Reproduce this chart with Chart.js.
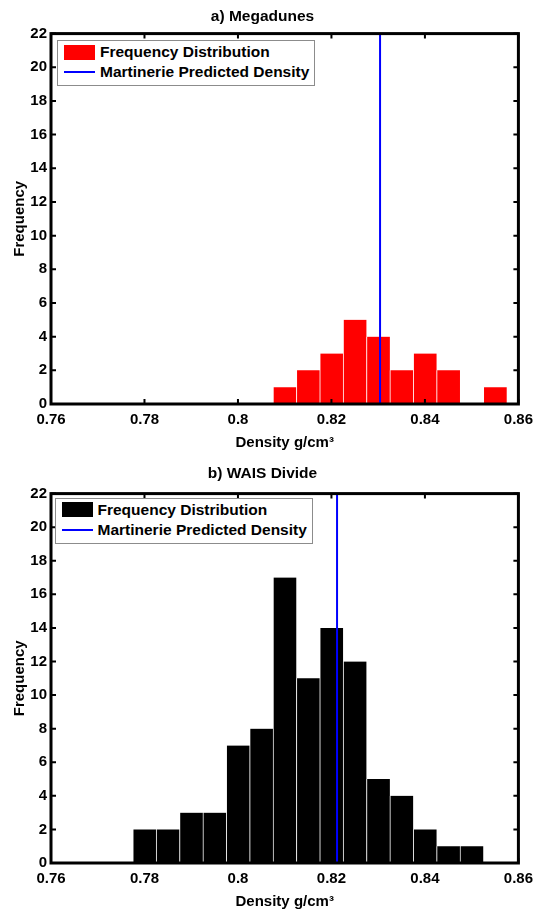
<!DOCTYPE html>
<html>
<head>
<meta charset="utf-8">
<title>Density histograms</title>
<script src="https://cdn.jsdelivr.net/npm/chart.js@4.4.0/dist/chart.umd.min.js"></script>
<style>
  html, body { margin: 0; padding: 0; background: #fff; }
  #wrap { position: relative; width: 540px; height: 913px; }
  .panel { position: absolute; left: 0; width: 540px; }
  .legend { position: absolute; background: #fff; border: 1px solid #8c8c8c;
            font: bold 15.5px 'Liberation Sans', Arial, sans-serif; color: #000;
            padding: 1px 5px 3px 6px; }
  .legend .row { display: flex; align-items: center; height: 20px; white-space: nowrap; }
  .legend .sw { width: 31px; margin-right: 5px; flex: none; }
</style>
</head>
<body>
<div id="wrap">
  <div class="panel" style="top:0;height:456px"><canvas id="chartA"></canvas><div class="legend" id="legendA"></div></div>
  <div class="panel" style="top:456px;height:457px"><canvas id="chartB"></canvas><div class="legend" id="legendB"></div></div>
</div>
<script>
// bin centres (g/cm3) and counts
const megadunesBins = [0.810, 0.815, 0.820, 0.825, 0.830, 0.835, 0.840, 0.845, 0.850, 0.855];
const megadunesCounts = [1, 2, 3, 5, 4, 2, 3, 2, 0, 1];
const megadunesPredicted = 0.8304;

const waisBins = [0.780, 0.785, 0.790, 0.795, 0.800, 0.805, 0.810, 0.815, 0.820, 0.825, 0.830, 0.835, 0.840, 0.845, 0.850];
const waisCounts = [2, 2, 3, 3, 7, 8, 17, 11, 14, 12, 5, 4, 2, 1, 1];
const waisPredicted = 0.8212;

const xTickLabels = ['0.76', '0.78', '0.8', '0.82', '0.84', '0.86'];
const yTickLabels = ['0', '2', '4', '6', '8', '10', '12', '14', '16', '18', '20', '22'];

Chart.defaults.font.family = "'Liberation Sans', Arial, sans-serif";
Chart.defaults.font.size = 15;
Chart.defaults.font.weight = 'bold';
Chart.defaults.color = '#000';

// matlab style box with inward ticks on all four sides
const boxPlugin = {
    id: 'matlabBox',
    afterDatasetsDraw(chart) {
        const { ctx, chartArea: a, scales: { x, y } } = chart;
        ctx.save();
        ctx.strokeStyle = '#000';
        ctx.lineWidth = 2;
        ctx.beginPath();
        x.ticks.forEach((t, i) => {
            const px = x.getPixelForTick(i);
            ctx.moveTo(px, a.bottom); ctx.lineTo(px, a.bottom - 5);
            ctx.moveTo(px, a.top); ctx.lineTo(px, a.top + 5);
        });
        y.ticks.forEach((t, i) => {
            const py = y.getPixelForTick(i);
            ctx.moveTo(a.left, py); ctx.lineTo(a.left + 5, py);
            ctx.moveTo(a.right, py); ctx.lineTo(a.right - 5, py);
        });
        ctx.stroke();
        ctx.lineWidth = 3;
        ctx.strokeRect(a.left, a.top, a.right - a.left, a.bottom - a.top);
        ctx.restore();
    }
};

function makeChart(canvasId, legendId, bins, counts, predicted, barColor, title, pad) {
    const ctx = document.getElementById(canvasId).getContext('2d');
    const chart = new Chart(ctx, {
        type: 'bar',
        data: {
            datasets: [
                {
                    type: 'line', label: 'Martinerie Predicted Density',
                    data: [{ x: predicted, y: 0 }, { x: predicted, y: 22 }],
                    borderColor: '#0000ff', borderWidth: 2, pointRadius: 0, order: 0
                },
                {
                    label: 'Frequency Distribution',
                    data: bins.map((b, i) => ({ x: b, y: counts[i] })),
                    backgroundColor: barColor,
                    borderColor: 'rgba(255,255,255,0.6)',
                    borderWidth: { left: 1, right: 0, top: 0, bottom: 0 },
                    barPercentage: 1, categoryPercentage: 1, grouped: false, order: 1
                }
            ]
        },
        options: {
            responsive: true, maintainAspectRatio: false, animation: false,
            layout: { padding: { left: 0, right: 15, top: 0, bottom: 0 } },
            plugins: {
                legend: { display: false },
                tooltip: { enabled: false },
                title: { display: true, text: title, font: { size: 15.5, weight: 'bold' }, color: '#000',
                         padding: { top: pad.titleTop, bottom: pad.titleBottom } }
            },
            scales: {
                x: {
                    type: 'linear', min: 0.76, max: 0.86, offset: false,
                    grid: { display: false, drawTicks: false },
                    border: { display: false },
                    ticks: { stepSize: 0.02, padding: 7, maxRotation: 0, autoSkip: false,
                             callback: (v, i) => xTickLabels[i] },
                    title: { display: true, text: 'Density g/cm³', padding: { top: -2, bottom: pad.xTitleBottom } }
                },
                y: {
                    min: 0, max: 22,
                    grid: { display: false, drawTicks: false },
                    border: { display: false },
                    ticks: { stepSize: 2, padding: 4, autoSkip: false, callback: (v, i) => yTickLabels[i] },
                    title: { display: true, text: 'Frequency', padding: { top: 11, bottom: 0 } },
                    afterFit: (scale) => { scale.width = 51; }
                }
            }
        },
        plugins: [boxPlugin]
    });

    // legend box inside the plot, built from the datasets
    const legend = document.getElementById(legendId);
    [chart.data.datasets[1], chart.data.datasets[0]].forEach(ds => {
        const row = document.createElement('div');
        row.className = 'row';
        const sw = document.createElement('span');
        sw.className = 'sw';
        if (ds.type === 'line') {
            sw.style.height = '2px';
            sw.style.background = ds.borderColor;
        } else {
            sw.style.height = '15px';
            sw.style.background = ds.backgroundColor;
        }
        row.appendChild(sw);
        row.appendChild(document.createTextNode(ds.label));
        legend.appendChild(row);
    });
    legend.style.left = (chart.chartArea.left + pad.legendX) + 'px';
    legend.style.top = (chart.chartArea.top + pad.legendY) + 'px';
    return chart;
}

makeChart('chartA', 'legendA', megadunesBins, megadunesCounts, megadunesPredicted, '#ff0000', 'a) Megadunes',
          { titleTop: 7, titleBottom: 8, xTitleBottom: 4, legendX: 6, legendY: 6.5 });
makeChart('chartB', 'legendB', waisBins, waisCounts, waisPredicted, '#000000', 'b) WAIS Divide',
          { titleTop: 8, titleBottom: 11, xTitleBottom: 2, legendX: 3.5, legendY: 4 });
</script>
</body>
</html>
